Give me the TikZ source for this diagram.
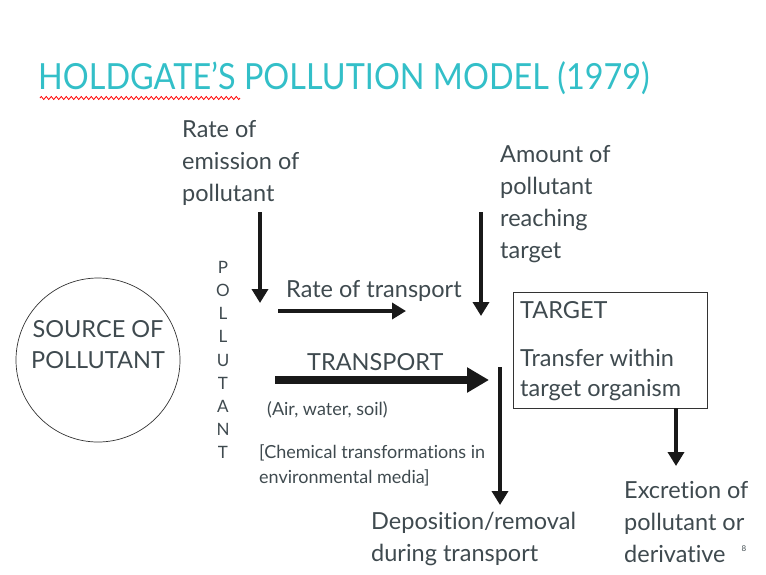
\documentclass[tikz,border=0pt]{standalone}
\usepackage{fontspec}
\setmainfont{Lato}[Ligatures={NoCommon}]
\usetikzlibrary{arrows.meta,decorations.pathmorphing}
\definecolor{ink}{HTML}{3F4A4F}
\definecolor{titleteal}{HTML}{33BFC8}
\tikzset{
  txt/.style={text=ink, font=\fontsize{23.5}{32}\selectfont, align=left, inner sep=0pt, anchor=west},
  smalltxt/.style={text=ink, font=\fontsize{18}{25}\selectfont, align=left, inner sep=0pt, anchor=west},
  letter/.style={text=ink, font=\fontsize{17}{17}\selectfont, inner sep=0pt},
  arr/.style={draw=black!90, line width=4.5pt, -{Triangle[width=16pt,length=14pt]}},
  bigarr/.style={draw=black!90, line width=7.5pt, -{Triangle[width=24pt,length=22pt]}}
}
\begin{document}
\begin{tikzpicture}[x=1pt,y=-1pt]
		\useasboundingbox (0,0) rectangle (766,574);
		% title
		\node[anchor=west, inner sep=0pt, text=titleteal, font=\fontsize{36}{36}\selectfont, xscale=.9, transform shape] (title) at (38,78) {HOLDGATE’S POLLUTION MODEL (1979)};
		\draw[red, line width=.8pt, decorate, decoration={zigzag, amplitude=1.5pt, segment length=5pt}] (40,98) -- (240,98);
		% source
		\draw[black!80, line width=.7pt] (98,360) circle [radius=82];
		\node[txt, anchor=center, align=center, font=\fontsize{23.5}{31}\selectfont] (source) at (98,345) {SOURCE OF\\POLLUTANT};
		% pollutant written downwards
		\foreach \ch [count=\i] in {P,O,L,L,U,T,A,N,T}
			\node[letter] (let\i) at (223,244+23.2*\i) {\ch};
		% emission
		\node[txt, anchor=north west] (emission) at (182,120) {Rate of\\emission of\\pollutant};
		\coordinate (emistop) at (260,212);
		\coordinate (emisend) at (260,303);
		\draw[arr] (emistop) -- (emisend);
		% amount reaching target
		\node[txt, anchor=north west] (amount) at (500,145) {Amount of\\pollutant\\reaching\\target};
		\coordinate (amtop) at (481,212);
		\coordinate (amend) at (481,316);
		\draw[arr] (amtop) -- (amend);
		% rate of transport
		\node[txt] (rate) at (286,291) {Rate of transport};
		\coordinate (ratestart) at (278,311);
		\coordinate (rateend) at (406,311);
		\draw[arr] (ratestart) -- (rateend);
		% transport
		\node[txt] (transport) at (307,362) {TRANSPORT};
		\coordinate (trstart) at (275,380);
		\coordinate (trend) at (489,380);
		\draw[bigarr] (trstart) -- (trend);
		\node[smalltxt] (media) at (267,410) {(Air, water, soil)};
		\node[smalltxt, anchor=north west] (chem) at (259,444) {[Chemical transformations in\\environmental media]};
		% deposition
		\coordinate (depstart) at (500,367);
		\coordinate (depend) at (500,505);
		\draw[arr] (depstart) -- (depend);
		\node[txt, anchor=north west] (deposition) at (371,512) {Deposition/removal\\during transport};
		% target
		\draw[black!80, line width=.7pt] (513,292) rectangle (707,408);
		\node[txt] (target) at (520,310) {TARGET};
		\node[txt, anchor=north west, font=\fontsize{23.5}{30}\selectfont] (transfer) at (520,349) {Transfer within\\target organism};
		\coordinate (exstart) at (676,408);
		\coordinate (exend) at (676,466);
		\draw[arr] (exstart) -- (exend);
		\node[txt, anchor=north west] (excretion) at (624,481) {Excretion of\\pollutant or\\derivative};
		\node[text=ink, font=\fontsize{8}{8}\selectfont, inner sep=0pt] (pagenum) at (744,549) {8};
		\end{tikzpicture}
\end{document}
